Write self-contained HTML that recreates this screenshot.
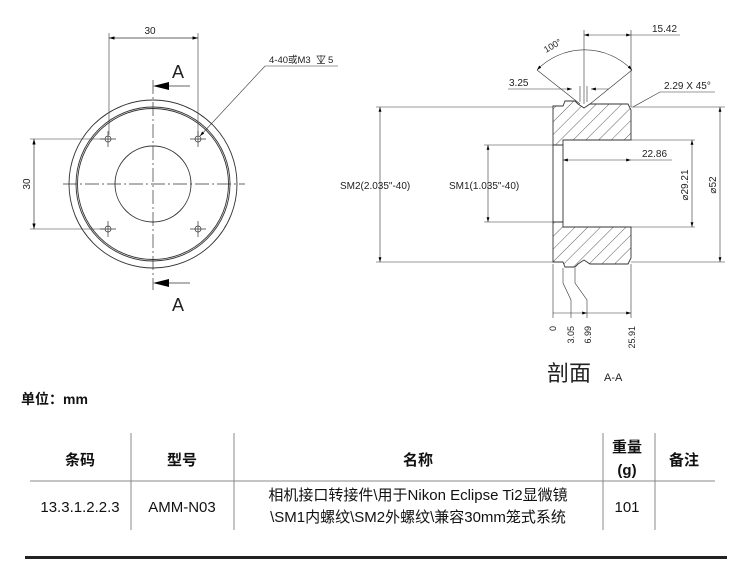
<!DOCTYPE html>
<html><head><meta charset="utf-8"><style>
body{margin:0;background:#fff;width:750px;height:562px;overflow:hidden;position:relative;font-family:"Liberation Sans","Noto Sans CJK SC",sans-serif}
svg{position:absolute;left:0;top:0}
</style></head><body>
<svg width="750" height="562" viewBox="0 0 750 562" font-family="Liberation Sans, Noto Sans CJK SC, sans-serif">
<defs>
<marker id="ar" viewBox="0 0 10 6" refX="10" refY="3" markerWidth="8" markerHeight="5" orient="auto-start-reverse"><path d="M0,0L10,3L0,6z" fill="#000"/></marker>
<pattern id="h" width="9" height="9" patternUnits="userSpaceOnUse" patternTransform="rotate(45)"><line x1="0" y1="0" x2="0" y2="9" stroke="#333" stroke-width="0.8"/></pattern>
</defs>
<g stroke="#333" fill="none" stroke-width="0.9">
<circle cx="153" cy="184" r="84"/>
<circle cx="153" cy="184" r="77"/>
<circle cx="153" cy="184" r="75.5"/>
<circle cx="153" cy="184" r="38"/>
<g stroke-width="0.7">
<circle cx="108" cy="139" r="3"/><circle cx="198" cy="139" r="3"/><circle cx="108" cy="229" r="3"/><circle cx="198" cy="229" r="3"/>
<path d="M100 139h16M108 131v16M190 139h16M198 131v16M100 229h16M108 221v16M190 229h16M198 221v16"/>
</g>
<path d="M153 80V290M63 184H245" stroke-dasharray="14 3 2 3" stroke-width="0.7"/>
<path d="M109 38H198" marker-start="url(#ar)" marker-end="url(#ar)" stroke-width="0.7"/>
<path d="M109 33V135M198 33V135" stroke-width="0.6"/>
<path d="M34 139V229" marker-start="url(#ar)" marker-end="url(#ar)" stroke-width="0.7"/>
<path d="M30 139H104M30 229H104" stroke-width="0.6"/>
<path d="M169 86H190M169 283H190" stroke-width="0.7"/>
<path d="M200 136L265 66H338" stroke-width="0.6" marker-start="url(#ar)"/>
<path d="M317 56H325L321 63ZM321 55V63M317 63.5H325" stroke-width="0.7"/>
<path d="M553 106H563L565 101H575L578 104L584 108L590 104H628L631 110V140H563V145H553Z" fill="url(#h)"/>
<path d="M553 262H563L565 267H575L578 264L584 260L590 264H628L631 258V227H563V222H553Z" fill="url(#h)"/>
<path d="M553 145V222M563 145V222"/>
<g stroke-width="0.6">
<path d="M380 107V262" marker-start="url(#ar)" marker-end="url(#ar)"/>
<path d="M376 107H553M376 262H553"/>
<path d="M488 145V222" marker-start="url(#ar)" marker-end="url(#ar)"/>
<path d="M484 145H553M484 222H553"/>
<path d="M563 160H631" marker-start="url(#ar)" marker-end="url(#ar)"/>
<path d="M631 160H672"/>
<path d="M631 140H695M631 227H695"/>
<path d="M692 140V227" marker-start="url(#ar)" marker-end="url(#ar)"/>
<path d="M631 107H725M631 262H725"/>
<path d="M720 107V262" marker-start="url(#ar)" marker-end="url(#ar)"/>
<path d="M584 35H631" marker-start="url(#ar)" marker-end="url(#ar)"/>
<path d="M631 35H680M584 30V104M631 30V107"/>
<path d="M537 70A66 66 0 0 1 632 70" marker-start="url(#ar)" marker-end="url(#ar)"/>
<path d="M537 70L580 104M632 70L590 104"/>
<path d="M508 89H572" marker-end="url(#ar)"/><path d="M609 89H591" marker-end="url(#ar)"/>
<path d="M580 86V102M587 86V102"/>
<path d="M633 107L660 92H715"/>
<path d="M553 264V318M631 264V318"/>
<path d="M563 268V283L571 300V318M575 268V283L587 300V318"/>
<path d="M553 313H571M571 313H587" marker-end="url(#ar)"/>
<path d="M587 313H631" marker-end="url(#ar)"/>
</g>
</g>
<path d="M153 86l16 -4v8z M153 283l16 -4v8z" fill="#000"/>
<g fill="#222" font-size="10">
<text x="150" y="34" text-anchor="middle">30</text>
<text x="30" y="184" text-anchor="middle" transform="rotate(-90 30 184)">30</text>
<text x="172" y="78" font-size="18">A</text>
<text x="172" y="311" font-size="18">A</text>
<text x="269" y="63" font-size="9.5">4-40或M3</text>
<text x="328" y="63" font-size="9.5">5</text>
<text x="340" y="189" font-size="10">SM2(2.035"-40)</text>
<text x="449" y="189" font-size="10">SM1(1.035"-40)</text>
<text x="642" y="157" font-size="10">22.86</text>
<text x="688" y="185" font-size="10" text-anchor="middle" transform="rotate(-90 688 185)">⌀29.21</text>
<text x="716" y="185" font-size="10" text-anchor="middle" transform="rotate(-90 716 185)">⌀52</text>
<text x="652" y="32" font-size="10">15.42</text>
<text x="546" y="53" font-size="9" transform="rotate(-30 546 53)">100°</text>
<text x="509" y="86" font-size="10">3.25</text>
<text x="664" y="89" font-size="10">2.29 X 45°</text>
<text x="556" y="326" font-size="9" text-anchor="end" transform="rotate(-90 556 326)">0</text>
<text x="574" y="326" font-size="9" text-anchor="end" transform="rotate(-90 574 326)">3.05</text>
<text x="591" y="326" font-size="9" text-anchor="end" transform="rotate(-90 591 326)">6.99</text>
<text x="635" y="326" font-size="9" text-anchor="end" transform="rotate(-90 635 326)">25.91</text>
<text x="547" y="381" font-size="22">剖面</text>
<text x="604" y="381" font-size="11">A-A</text>
</g>
<g fill="#111">
<text x="21" y="404" font-size="14" font-weight="bold">单位：mm</text>
<g font-size="15" font-weight="bold" text-anchor="middle">
<text x="80" y="465">条码</text>
<text x="182" y="465">型号</text>
<text x="418" y="465">名称</text>
<text x="627" y="452">重量</text>
<text x="627" y="475">(g)</text>
<text x="684" y="465">备注</text>
</g>
<g font-size="15" text-anchor="middle">
<text x="80" y="512">13.3.1.2.2.3</text>
<text x="182" y="512">AMM-N03</text>
<text x="418" y="500">相机接口转接件\用于Nikon Eclipse Ti2显微镜</text>
<text x="418" y="522">\SM1内螺纹\SM2外螺纹\兼容30mm笼式系统</text>
<text x="627" y="512">101</text>
</g>
</g>
<g stroke="#888" stroke-width="1">
<path d="M30 481H715M131 433V530M234 433V530M603 433V530M655 433V530"/>
</g>
<rect x="25" y="556" width="702" height="3" fill="#222"/>
</svg>
</body></html>
